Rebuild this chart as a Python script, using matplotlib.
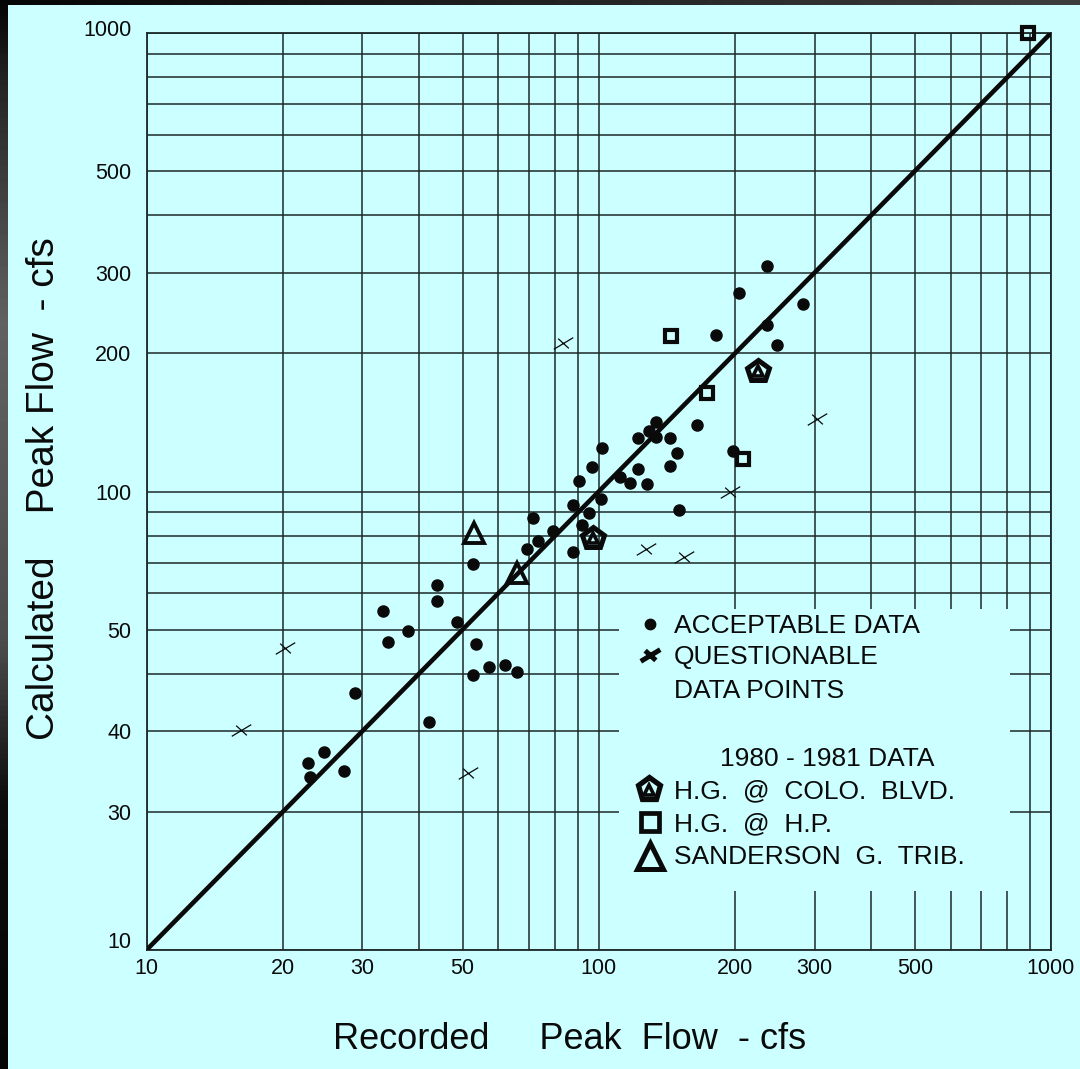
import numpy as np
import matplotlib
matplotlib.use("Agg")
import matplotlib.pyplot as plt
from matplotlib.path import Path
from matplotlib.patches import Rectangle
from matplotlib.ticker import NullFormatter
from matplotlib.transforms import ScaledTranslation

plt.rcParams['font.family'] = ['Liberation Sans', 'DejaVu Sans']

W, H = 1080, 1069
BG = '#ccffff'
INK = '#0a0a0a'
GRID = '#1c2a2a'

# acceptable data: recorded vs calculated peak flow (cfs)
acc_x = [33.3, 37.9, 34.2, 28.9, 42.2, 22.8, 24.7, 23.0, 27.4, 43.9, 43.9, 48.5,
         52.7, 53.6, 52.6, 57.1, 62.0, 66.0, 71.5, 73.3, 69.5, 79.1, 87.8, 95.3,
         91.7, 87.8, 101.8, 96.4, 90.4, 101.0, 111.4, 117.3, 127.6, 121.9, 121.9,
         128.9, 133.9, 133.9, 143.6, 148.7, 143.6, 165.2, 150.4, 198.4, 236.0,
         203.9, 282.5, 236.0, 248.3, 181.4]
acc_y = [54.9, 49.6, 47.0, 36.4, 31.5, 25.6, 27.0, 23.8, 24.6, 62.5, 57.7, 52.0,
         69.4, 46.5, 39.7, 41.5, 41.9, 40.4, 87.6, 77.8, 74.8, 81.9, 93.5, 89.6,
         84.5, 73.9, 124.3, 113.2, 105.4, 96.2, 107.4, 104.2, 103.8, 111.9, 130.5,
         135.7, 141.8, 131.2, 131.0, 121.1, 113.6, 139.6, 91.1, 122.7, 310.8,
         270.4, 256.4, 230.7, 208.7, 219.5]

# questionable data points
q_x = [20.2, 16.2, 51.3, 83.5, 127.2, 154.3, 195.4, 304.0]
q_y = [45.6, 30.2, 24.3, 211.1, 74.8, 72.1, 99.8, 143.6]

# 1980 - 1981 data
colo_x = [97.3, 224.7]
colo_y = [79.0, 183.2]
hp_x = [890.0, 144.5, 173.3, 208.0]
hp_y = [1000.0, 218.4, 163.7, 118.0]
sand_x = [53.0, 65.9]
sand_y = [81.1, 66.5]

# line of equality
eq_x = [10, 1000]
eq_y = [10, 1000]

xticks = [10, 20, 30, 50, 100, 200, 300, 500, 1000]
xlabels = ['10', '20', '30', '50', '100', '200', '300', '500', '1000']
# the original sheet labels the 30 and 20 lines as "40" and "30"
yticks = [10, 20, 30, 50, 100, 200, 300, 500, 1000]
ylabels = ['10', '30', '40', '50', '100', '200', '300', '500', '1000']
grid_vals = [20, 30, 40, 50, 60, 70, 80, 90, 200, 300, 400, 500, 600, 700, 800, 900]

cross = Path([(-1, -0.6), (1, 0.6), (-0.55, 0.5), (0.55, -0.5)],
             [Path.MOVETO, Path.LINETO, Path.MOVETO, Path.LINETO])

fig = plt.figure(figsize=(W / 100, H / 100), dpi=100, facecolor=BG)

# dark frame strips on the left and top
lax = fig.add_axes([0, 0, 8 / W, 1])
shade = np.interp(np.linspace(0, 1, 200), [0, 0.08, 0.3, 0.6, 0.75, 1.0],
                  [0.02, 0.15, 0.38, 0.3, 0.05, 0.02])
lax.imshow(shade[:, None], cmap='gray', vmin=0, vmax=1, aspect='auto')
lax.axis('off')
tax = fig.add_axes([0, 1 - 5 / H, 1, 5 / H])
tshade = np.interp(np.linspace(0, 1, 200), [0, 1], [0.02, 0.24])
tax.imshow(tshade[None, :], cmap='gray', vmin=0, vmax=1, aspect='auto')
tax.axis('off')

ax = fig.add_axes([146.5 / W, (H - 950) / H, 904.5 / W, 917 / H])
ax.set_facecolor(BG)
ax.set_xscale('log')
ax.set_yscale('log')
ax.set_xlim(10, 1000)
ax.set_ylim(10, 1000)
ax.set_axisbelow(True)

ax.set_xticks(xticks)
ax.set_xticklabels(xlabels)
ax.set_yticks(yticks)
ax.set_yticklabels(ylabels)
ax.set_xticks(grid_vals, minor=True)
ax.set_yticks(grid_vals, minor=True)
ax.xaxis.set_minor_formatter(NullFormatter())
ax.yaxis.set_minor_formatter(NullFormatter())
ax.tick_params(which='both', length=0)
ax.tick_params(axis='x', pad=6, labelsize=15.5, colors=INK)
ax.tick_params(axis='y', pad=11, labelsize=15.5, colors=INK)
ax.grid(which='both', color=GRID, lw=1.1)
for s in ax.spines.values():
    s.set_color(GRID)
    s.set_linewidth(1.3)

for lab in ax.get_yticklabels():
    if lab.get_text() == '10':
        lab.set_transform(lab.get_transform() + ScaledTranslation(0, 10 / 100, fig.dpi_scale_trans))
    if lab.get_text() == '1000':
        lab.set_transform(lab.get_transform() + ScaledTranslation(0, 5 / 100, fig.dpi_scale_trans))

# cyan block behind the key hides the grid
ax.add_patch(Rectangle((618.5 / W, (H - 891) / H), (1010 - 618.5) / W, (891 - 609) / H,
                       transform=fig.transFigure, facecolor=BG, edgecolor='none',
                       zorder=1, clip_on=False))

ax.plot(eq_x, eq_y, color=INK, lw=3.3, zorder=3, solid_capstyle='butt')

ax.plot(acc_x, acc_y, 'o', ms=8, color=INK, zorder=4, clip_on=False)
ax.plot(q_x, q_y, ls='none', marker=cross, ms=14, mew=0.9, mec=INK, zorder=4)
ax.plot(colo_x, colo_y, ls='none', marker='p', ms=16, mew=3.6, mec=INK, mfc='none', zorder=4)
ax.plot(colo_x, colo_y, ls='none', marker='^', ms=7.5, mew=2.6, mec=INK, mfc='none', zorder=4)
ax.plot(hp_x, hp_y, ls='none', marker='s', ms=9, mew=3, mec=INK, mfc='none',
        zorder=4, clip_on=False)
ax.plot(sand_x, sand_y, ls='none', marker='^', ms=14, mew=2.8, mec=INK, mfc='none', zorder=4)


# key, drawn in figure pixels
def fx(px):
    return px / W


def fy(py):
    return 1 - py / H


key_font = 19
ax.plot([fx(650)], [fy(624)], 'o', ms=7.5, color=INK, transform=fig.transFigure, clip_on=False)
ax.plot([fx(650)], [fy(655)], ls='none', marker=cross, ms=14, mew=3.6, mec=INK,
        transform=fig.transFigure, clip_on=False)
ax.plot([fx(649)], [fy(789)], ls='none', marker='p', ms=17, mew=3.8, mec=INK, mfc='none',
        transform=fig.transFigure, clip_on=False)
ax.plot([fx(649)], [fy(790)], ls='none', marker='^', ms=7.5, mew=2.6, mec=INK, mfc='none',
        transform=fig.transFigure, clip_on=False)
ax.plot([fx(650)], [fy(822)], ls='none', marker='s', ms=13, mew=3.4, mec=INK, mfc='none',
        transform=fig.transFigure, clip_on=False)
ax.plot([fx(650)], [fy(856)], ls='none', marker='^', ms=19, mew=3.6, mec=INK, mfc='none',
        transform=fig.transFigure, clip_on=False)

key_rows = [
    (673.5, 633, 'ACCEPTABLE DATA'),
    (673.5, 664, 'QUESTIONABLE'),
    (673.5, 698.5, 'DATA POINTS'),
    (720.5, 766, '1980 - 1981 DATA'),
    (673.5, 798, 'H.G.  @  COLO.  BLVD.'),
    (673.5, 831, 'H.G.  @  H.P.'),
    (673.5, 864, 'SANDERSON  G.  TRIB.'),
]
for px, py, txt in key_rows:
    fig.text(fx(px), fy(py), txt, fontsize=key_font, color=INK, ha='left', va='baseline')

fig.text(fx(570), fy(1049), 'Recorded     Peak  Flow  - cfs', fontsize=26, color=INK,
         ha='center', va='baseline')
fig.text(fx(44), fy(489), 'Calculated    Peak Flow  - cfs', fontsize=28, color=INK,
         ha='center', va='center', rotation=90)

fig.savefig('out.png', dpi=100, facecolor=BG)
